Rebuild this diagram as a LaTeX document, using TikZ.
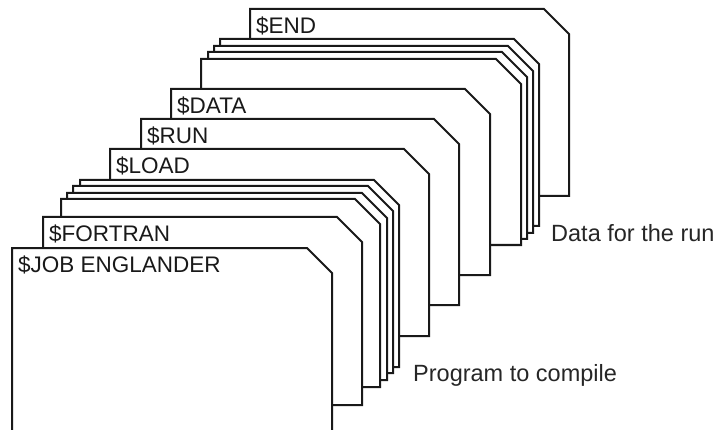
\documentclass[tikz,border=0pt]{standalone}
\usepackage{fontspec}
\setmainfont{Liberation Sans}
\tikzset{
  cardline/.style={draw=black!90, fill=white, line width=2pt, line join=miter},
  lbl/.style={anchor=base west, inner sep=0pt, font=\fontsize{22.5}{24}\selectfont, text=black!90},
  note/.style={anchor=base west, inner sep=0pt, font=\fontsize{23.5}{26}\selectfont, text=black!85}
}
\newcommand\deckcard[6]{%
  \filldraw[cardline] (#1,#4) -- (#1,#2) -- ({#3-25},#2) -- (#3,{#2+25}) -- (#3,#4) -- cycle;
  \node[lbl] (#6) at ({#1+6},{#2+24.5}) {#5};
}
\begin{document}
\begin{tikzpicture}[x=1pt,y=-1pt]
\useasboundingbox (0,0) rectangle (714,430);
\clip (0,0) rectangle (714,430);
\deckcard{250}{9}{569}{196}{\$END}{endc}
\deckcard{220}{39}{539}{226}{}{d1}
\deckcard{214}{46}{533}{233}{}{d2}
\deckcard{208}{52}{527}{239}{}{d3}
\deckcard{201}{59}{521}{245}{}{d4}
\deckcard{171}{89}{490}{275}{\$DATA}{datac}
\deckcard{141}{119}{459}{305}{\$RUN}{runc}
\deckcard{110}{149}{429}{336}{\$LOAD}{loadc}
\deckcard{80}{180}{399}{367}{}{p1}
\deckcard{73}{186}{393}{373}{}{p2}
\deckcard{67}{193}{387}{380}{}{p3}
\deckcard{61}{199}{380}{387}{}{p4}
\deckcard{43}{217}{362}{405}{\$FORTRAN}{fortc}
\deckcard{12}{248}{332}{445}{\$JOB ENGLANDER}{jobc}
\node[note] (datarun) at (551,241) {Data for the run};
\node[note] (prog) at (413,381) {Program to compile};
\end{tikzpicture}
\end{document}
